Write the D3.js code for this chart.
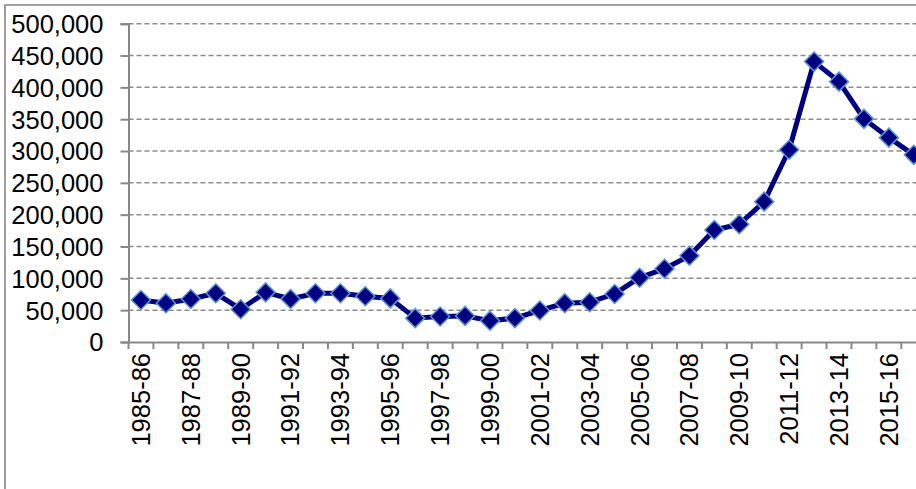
<!DOCTYPE html>
<html>
<head>
<meta charset="utf-8">
<script src="https://cdn.jsdelivr.net/npm/d3@7"></script>
<style>
  html, body { margin: 0; padding: 0; background: #fff; overflow: hidden; }
  svg { display: block; font-family: Arial, "Liberation Sans", sans-serif; }
</style>
</head>
<body>
<div id="chart"></div>
<script>
// === DATA ===
const years = [
  "1985-86", "1986-87", "1987-88", "1988-89", "1989-90", "1990-91", "1991-92", "1992-93",
  "1993-94", "1994-95", "1995-96", "1996-97", "1997-98", "1998-99", "1999-00", "2000-01",
  "2001-02", "2002-03", "2003-04", "2004-05", "2005-06", "2006-07", "2007-08", "2008-09",
  "2009-10", "2010-11", "2011-12", "2012-13", "2013-14", "2014-15", "2015-16", "2016-17"
];
const values = [
  66000, 61000, 67500, 76500, 51500, 78000, 67500, 76500,
  76500, 72000, 68500, 37500, 40000, 41000, 33500, 37500,
  49500, 61000, 62500, 75500, 101000, 115000, 135500, 176000,
  185000, 220500, 302000, 440500, 409000, 350500, 321000, 294000
];
const yTicks = [0, 50000, 100000, 150000, 200000, 250000, 300000, 350000, 400000, 450000, 500000];

// === CONFIGURATION ===
const W = 916, H = 489;
const plot = { left: 128.5, top: 23.7, bottom: 342 };
const step = 24.93;
const colors = { line: "#000080", marker: "#000080", markerStroke: "#5b93cf", axis: "#888888", grid: "#8c8c8c", border: "#a0a0a0" };

const svg = d3.select("#chart").append("svg")
  .attr("width", W)
  .attr("height", H);

// cadre extérieur (seuls les bords gauche et haut sont visibles)
svg.append("path")
  .attr("d", `M5,${H} L5,5 L${W},5`)
  .attr("fill", "none")
  .attr("stroke", colors.border)
  .attr("stroke-width", 2);

const x = d3.scaleBand()
  .domain(years)
  .range([plot.left, plot.left + step * years.length])
  .padding(0);

const y = d3.scaleLinear()
  .domain([0, 500000])
  .range([plot.bottom, plot.top]);

// === GRILLE ===
svg.append("g")
  .selectAll("line")
  .data(yTicks.filter(d => d > 0))
  .enter()
  .append("line")
  .attr("x1", plot.left)
  .attr("x2", W)
  .attr("y1", d => y(d))
  .attr("y2", d => y(d))
  .attr("stroke", colors.grid)
  .attr("stroke-width", 1.5)
  .attr("stroke-dasharray", "5,3");

// === AXE Y ===
const yAxis = svg.append("g")
  .attr("transform", `translate(${plot.left},0)`)
  .call(d3.axisLeft(y).tickValues(yTicks).tickSize(8).tickPadding(17).tickFormat(d3.format(",")));
yAxis.select(".domain").attr("stroke", colors.axis).attr("stroke-width", 2);
yAxis.selectAll(".tick line").attr("stroke", colors.axis).attr("stroke-width", 2);
yAxis.selectAll("text")
  .style("font-size", "25.5px")
  .style("fill", "#000")
  .attr("dy", "0.35em");

// === AXE X ===
const xAxis = svg.append("g")
  .attr("transform", `translate(0,${plot.bottom})`)
  .call(d3.axisBottom(x).tickSize(0).tickFormat((d, i) => i % 2 === 0 ? d : ""));
xAxis.select(".domain").attr("stroke", colors.axis).attr("stroke-width", 2);
xAxis.selectAll("text")
  .style("font-size", "25.5px")
  .style("fill", "#000")
  .style("text-anchor", "end")
  .attr("transform", "rotate(-90)")
  .attr("x", -11)
  .attr("y", 0)
  .attr("dy", "0.35em");

// graduations aux limites des catégories
svg.append("g")
  .selectAll("line")
  .data(years)
  .enter()
  .append("line")
  .attr("x1", d => x(d))
  .attr("x2", d => x(d))
  .attr("y1", plot.bottom)
  .attr("y2", plot.bottom + 7)
  .attr("stroke", colors.axis)
  .attr("stroke-width", 2);

// === COURBE ===
const data = years.map((d, i) => ({ year: d, value: values[i] }));
const cx = d => x(d.year) + x.bandwidth() / 2;

svg.append("path")
  .datum(data)
  .attr("fill", "none")
  .attr("stroke", colors.line)
  .attr("stroke-width", 5)
  .attr("stroke-linejoin", "round")
  .attr("d", d3.line().x(cx).y(d => y(d.value)));

// marqueurs en losange
svg.append("g")
  .selectAll("path")
  .data(data)
  .enter()
  .append("path")
  .attr("d", "M0,-9.5 L9.5,0 L0,9.5 L-9.5,0 Z")
  .attr("transform", d => `translate(${cx(d)},${y(d.value)})`)
  .attr("fill", colors.marker)
  .attr("stroke", colors.markerStroke)
  .attr("stroke-width", 1.5);
</script>
</body>
</html>
